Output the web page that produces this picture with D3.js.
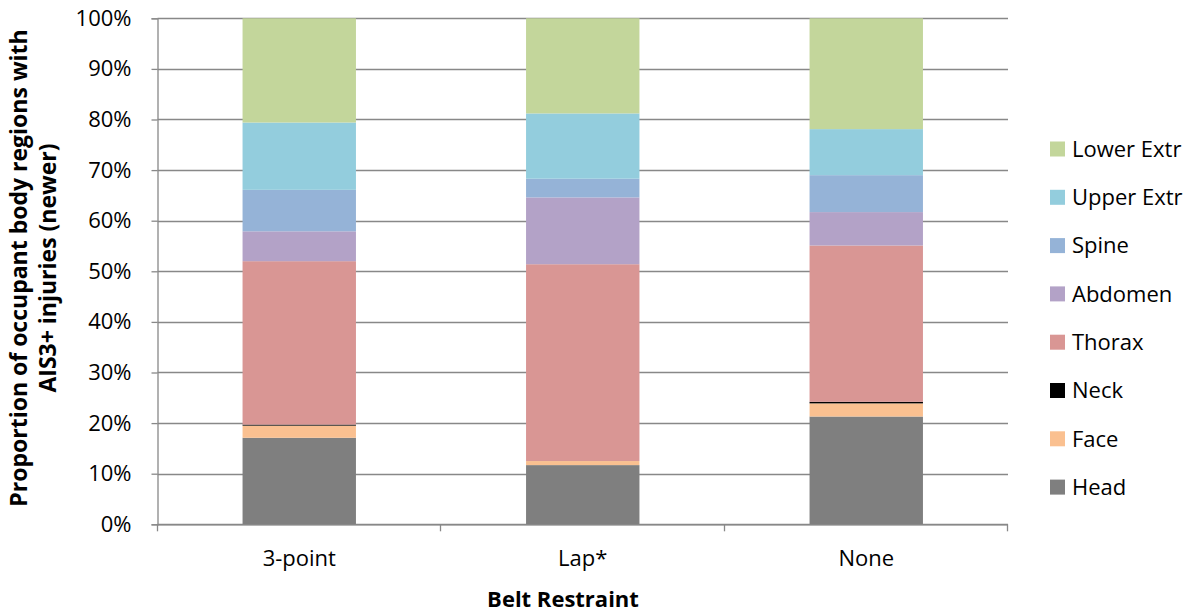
<!DOCTYPE html>
<html><head><meta charset="utf-8">
<script src="https://cdn.jsdelivr.net/npm/d3@7"></script>
<style>body{margin:0;background:#fff}svg{display:block}text{font-family:"Open Sans",sans-serif;fill:#000}</style>
</head><body>
<script>
const categories = ["3-point", "Lap*", "None"];
const seriesNames = ["Head", "Face", "Neck", "Thorax", "Abdomen", "Spine", "Upper Extr", "Lower Extr"];
const head    = [17.1, 11.7, 21.3];
const face    = [2.4, 0.8, 2.6];
const neck    = [0.2, 0.0, 0.3];
const thorax  = [32.3, 38.9, 30.9];
const abdomen = [5.9, 13.2, 6.6];
const spine   = [8.2, 3.7, 7.3];
const upper   = [13.3, 12.9, 9.1];
const lower   = [20.6, 18.8, 21.9];
const yTicks = [0, 10, 20, 30, 40, 50, 60, 70, 80, 90, 100];
const colors = ["#7F7F7F", "#FAC090", "#000000", "#D99694", "#B3A2C7", "#95B3D7", "#93CDDD", "#C3D69B"];

const seriesValues = [head, face, neck, thorax, abdomen, spine, upper, lower];
const rows = categories.map((c, i) => {
  const r = {cat: c};
  seriesNames.forEach((s, k) => r[s] = seriesValues[k][i]);
  return r;
});
const stacked = d3.stack().keys(seriesNames)(rows);

const W = 1198, H = 613;
const FS = 22;
const svg = d3.select("body").append("svg").attr("width", W).attr("height", H);
const pLeft = 157.5, pRight = 1008, pTop = 18.3, pBottom = 524.3;
const x = d3.scaleBand().domain(categories).range([pLeft, pRight]).paddingInner(0.6).paddingOuter(0.3);
const y = d3.scaleLinear().domain([0, 100]).range([pBottom, pTop]);
const grid = "#888888";

// gridlines
svg.append("g").selectAll("line").data(yTicks).join("line")
  .attr("x1", pLeft).attr("x2", pRight)
  .attr("y1", d => Math.round(y(d)) + 0.5).attr("y2", d => Math.round(y(d)) + 0.5)
  .attr("stroke", grid).attr("stroke-width", 1.3);

// bars
svg.append("g").selectAll("g").data(stacked).join("g")
  .attr("fill", (d, i) => colors[i])
  .selectAll("rect").data(d => d).join("rect")
  .attr("x", d => x(d.data.cat))
  .attr("width", x.bandwidth())
  .attr("y", d => y(d[1]))
  .attr("height", d => Math.max(0, y(d[0]) - y(d[1])));

// y axis
const yAxis = d3.axisLeft(y).tickValues(yTicks).tickFormat(d => d + "%").tickSize(6).tickPadding(20);
const ga = svg.append("g").attr("transform", `translate(${Math.round(pLeft) - 0.5},0)`).call(yAxis);
ga.select(".domain").attr("stroke", grid).attr("stroke-width", 1.3);
ga.selectAll(".tick line").attr("stroke", grid).attr("stroke-width", 1.3);
ga.selectAll(".tick text").attr("font-size", FS).attr("font-family", "Open Sans").attr("fill", "#000");

// x axis
const bounds = [pLeft, ...categories.map(c => x(c) + x.bandwidth() / 2 + x.step() / 2)];
svg.append("line").attr("x1", pLeft).attr("x2", pRight).attr("y1", pBottom + 0.5).attr("y2", pBottom + 0.5)
  .attr("stroke", grid).attr("stroke-width", 1.3);
svg.append("g").selectAll("line").data(bounds).join("line")
  .attr("x1", d => Math.round(d) - 0.5).attr("x2", d => Math.round(d) - 0.5)
  .attr("y1", pBottom).attr("y2", pBottom + 7)
  .attr("stroke", grid).attr("stroke-width", 1.3);
svg.append("g").selectAll("text").data(categories).join("text")
  .attr("x", d => x(d) + x.bandwidth() / 2).attr("y", 566)
  .attr("text-anchor", "middle").attr("font-size", FS).text(d => d);

// axis titles
svg.append("text").attr("x", 563).attr("y", 607).attr("text-anchor", "middle")
  .attr("font-size", FS).attr("font-weight", "bold").text("Belt Restraint");
const yt = svg.append("text").attr("transform", `translate(0,268) rotate(-90)`)
  .attr("text-anchor", "middle").attr("font-size", 23).attr("font-weight", "bold");
yt.append("tspan").attr("x", 0).attr("y", 27).text("Proportion of occupant body regions with");
yt.append("tspan").attr("x", 0).attr("y", 56).text("AIS3+ injuries (newer)");

// legend
const legendOrder = seriesNames.slice().reverse();
const lg = svg.append("g").selectAll("g").data(legendOrder).join("g")
  .attr("transform", (d, i) => `translate(1050,${149 + i * 48.3})`);
lg.append("rect").attr("x", 0).attr("y", -7.5).attr("width", 15).attr("height", 15)
  .attr("fill", d => colors[seriesNames.indexOf(d)]);
lg.append("text").attr("x", 22).attr("y", 0).attr("dy", "0.35em").attr("font-size", FS).text(d => d);
</script>
</body></html>
